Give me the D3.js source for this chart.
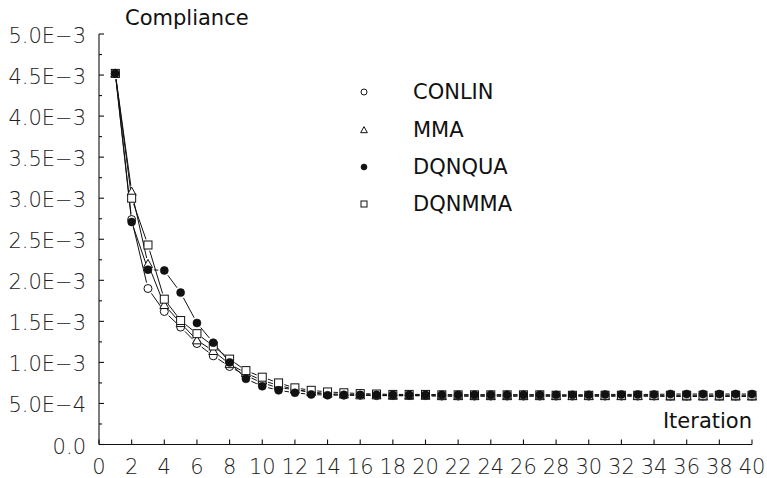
<!DOCTYPE html>
<html>
<head>
<meta charset="utf-8">
<script src="https://cdn.jsdelivr.net/npm/d3@7"></script>
<style>
  html, body { margin: 0; padding: 0; background: #fff; }
  svg { display: block; }
  .tick-label { font-family: "DejaVu Sans", Verdana, sans-serif; font-weight: 200; font-size: 21px; fill: #222; }
  .title { font-family: "DejaVu Sans", Verdana, sans-serif; font-size: 21px; fill: #111; }
</style>
</head>
<body>
<svg id="chart" width="767" height="478"></svg>
<script>
// Iteration numbers
const iterations = d3.range(1, 41);

// Compliance history for each optimizer
const conlin = [4.52e-3, 2.74e-3, 1.90e-3, 1.62e-3, 1.43e-3, 1.23e-3, 1.08e-3, 0.95e-3, 0.84e-3, 0.75e-3,
  0.69e-3, 0.67e-3, 0.63e-3, 0.61e-3, 0.60e-3, 0.60e-3, 0.595e-3, 0.595e-3, 0.595e-3, 0.595e-3,
  0.59e-3, 0.59e-3, 0.59e-3, 0.59e-3, 0.59e-3, 0.59e-3, 0.59e-3, 0.59e-3, 0.59e-3, 0.59e-3,
  0.59e-3, 0.59e-3, 0.59e-3, 0.59e-3, 0.59e-3, 0.59e-3, 0.59e-3, 0.59e-3, 0.59e-3, 0.59e-3];
const mma = [4.52e-3, 3.08e-3, 2.20e-3, 1.70e-3, 1.48e-3, 1.27e-3, 1.14e-3, 0.98e-3, 0.87e-3, 0.78e-3,
  0.72e-3, 0.67e-3, 0.64e-3, 0.62e-3, 0.61e-3, 0.60e-3, 0.60e-3, 0.595e-3, 0.595e-3, 0.595e-3,
  0.59e-3, 0.59e-3, 0.59e-3, 0.59e-3, 0.59e-3, 0.59e-3, 0.59e-3, 0.59e-3, 0.59e-3, 0.59e-3,
  0.59e-3, 0.59e-3, 0.59e-3, 0.59e-3, 0.585e-3, 0.585e-3, 0.585e-3, 0.585e-3, 0.585e-3, 0.585e-3];
const dqnqua = [4.52e-3, 2.71e-3, 2.13e-3, 2.12e-3, 1.85e-3, 1.48e-3, 1.24e-3, 1.00e-3, 0.80e-3, 0.71e-3,
  0.66e-3, 0.63e-3, 0.61e-3, 0.60e-3, 0.605e-3, 0.605e-3, 0.605e-3, 0.605e-3, 0.605e-3, 0.605e-3,
  0.605e-3, 0.605e-3, 0.605e-3, 0.605e-3, 0.605e-3, 0.605e-3, 0.605e-3, 0.605e-3, 0.605e-3, 0.605e-3,
  0.61e-3, 0.61e-3, 0.61e-3, 0.61e-3, 0.615e-3, 0.615e-3, 0.615e-3, 0.615e-3, 0.615e-3, 0.615e-3];
const dqnmma = [4.52e-3, 3.00e-3, 2.43e-3, 1.77e-3, 1.51e-3, 1.35e-3, 1.20e-3, 1.04e-3, 0.90e-3, 0.82e-3,
  0.75e-3, 0.69e-3, 0.66e-3, 0.64e-3, 0.63e-3, 0.62e-3, 0.615e-3, 0.61e-3, 0.61e-3, 0.61e-3,
  0.605e-3, 0.605e-3, 0.605e-3, 0.605e-3, 0.605e-3, 0.605e-3, 0.605e-3, 0.60e-3, 0.60e-3, 0.60e-3,
  0.60e-3, 0.60e-3, 0.60e-3, 0.60e-3, 0.60e-3, 0.60e-3, 0.60e-3, 0.60e-3, 0.60e-3, 0.60e-3];

const seriesNames = ["CONLIN", "MMA", "DQNQUA", "DQNMMA"];
const seriesSymbols = ["circle", "triangle", "dot", "square"];

// Axis ticks and labels
const yTickValues = [0, 5e-4, 1e-3, 1.5e-3, 2e-3, 2.5e-3, 3e-3, 3.5e-3, 4e-3, 4.5e-3, 5e-3];
const yTickLabels = ["0.0", "5.0E\u22124", "1.0E\u22123", "1.5E\u22123", "2.0E\u22123", "2.5E\u22123",
  "3.0E\u22123", "3.5E\u22123", "4.0E\u22123", "4.5E\u22123", "5.0E\u22123"];
const xTickValues = d3.range(0, 41, 2);

const svg = d3.select("#chart");
const x = d3.scaleLinear().domain([0, 40]).range([99, 752]);
const y = d3.scaleLinear().domain([0, 5e-3]).range([444.5, 34]);

// Axes
const axes = svg.append("g").attr("stroke", "#111").attr("stroke-width", 1.1);
axes.append("line").attr("x1", x(0)).attr("x2", x(0)).attr("y1", y(0)).attr("y2", y(5e-3));
axes.append("line").attr("x1", x(0)).attr("x2", x(40)).attr("y1", y(0)).attr("y2", y(0));
yTickValues.forEach(v => {
  axes.append("line").attr("x1", x(0)).attr("x2", x(0) + 5).attr("y1", y(v)).attr("y2", y(v));
});
d3.range(2.5e-4, 5e-3, 5e-4).forEach(v => {
  axes.append("line").attr("x1", x(0)).attr("x2", x(0) + 3).attr("y1", y(v)).attr("y2", y(v));
});
xTickValues.forEach(v => {
  axes.append("line").attr("x1", x(v)).attr("x2", x(v)).attr("y1", y(0)).attr("y2", y(0) - 5);
});

svg.selectAll(".ylab").data(yTickValues).enter().append("text")
  .attr("class", "tick-label")
  .attr("x", 86).attr("y", d => y(d) + 2)
  .attr("text-anchor", "end").attr("dominant-baseline", "central")
  .text((d, i) => yTickLabels[i]);

svg.selectAll(".xlab").data(xTickValues).enter().append("text")
  .attr("class", "tick-label")
  .attr("x", d => x(d)).attr("y", 467)
  .attr("text-anchor", "middle").attr("dominant-baseline", "central")
  .text(d => d);

svg.append("text").attr("class", "title").attr("x", 125).attr("y", 18)
  .attr("dominant-baseline", "central").text("Compliance");
svg.append("text").attr("class", "title").attr("x", 752).attr("y", 421)
  .attr("text-anchor", "end").attr("dominant-baseline", "central").text("Iteration");

// Marker painter
function drawSymbol(g, type, cx, cy, s) {
  if (type === "circle") {
    g.append("circle").attr("cx", cx).attr("cy", cy).attr("r", 4 * s)
      .attr("fill", "#fff").attr("stroke", "#111").attr("stroke-width", 1);
  } else if (type === "dot") {
    g.append("circle").attr("cx", cx).attr("cy", cy).attr("r", 4 * s)
      .attr("fill", "#111").attr("stroke", "#111").attr("stroke-width", 0.6);
  } else if (type === "square") {
    const h = 4 * s;
    g.append("rect").attr("x", cx - h).attr("y", cy - h).attr("width", 2 * h).attr("height", 2 * h)
      .attr("fill", "#fff").attr("stroke", "#111").attr("stroke-width", 1);
  } else if (type === "triangle") {
    const h = 4.5 * s;
    g.append("path")
      .attr("d", `M${cx},${cy - h}L${cx + h},${cy + h * 0.8}L${cx - h},${cy + h * 0.8}Z`)
      .attr("fill", "#fff").attr("stroke", "#111").attr("stroke-width", 1);
  }
}

// Connecting lines stop short of each marker
const seriesData = [conlin, mma, dqnmma, dqnqua];
const seriesType = ["circle", "triangle", "square", "dot"];
const gap = 6;
const lines = svg.append("g").attr("stroke", "#111").attr("stroke-width", 1).attr("fill", "none");
seriesData.forEach(vals => {
  for (let i = 0; i < vals.length - 1; i++) {
    const x1 = x(iterations[i]), y1 = y(vals[i]);
    const x2 = x(iterations[i + 1]), y2 = y(vals[i + 1]);
    const len = Math.hypot(x2 - x1, y2 - y1);
    if (len <= 2 * gap) continue;
    const ux = (x2 - x1) / len, uy = (y2 - y1) / len;
    lines.append("line")
      .attr("x1", x1 + ux * gap).attr("y1", y1 + uy * gap)
      .attr("x2", x2 - ux * gap).attr("y2", y2 - uy * gap);
  }
});

// Markers, filled dots on top
const marks = svg.append("g");
seriesData.forEach((vals, k) => {
  vals.forEach((v, i) => drawSymbol(marks, seriesType[k], x(iterations[i]), y(v), 1));
});

// Legend
const legendY = [92, 130, 167, 204];
const legend = svg.append("g");
seriesNames.forEach((name, i) => {
  drawSymbol(legend, seriesSymbols[i], 364, legendY[i], 0.75);
  legend.append("text").attr("class", "title").attr("x", 413).attr("y", legendY[i])
    .attr("dominant-baseline", "central").text(name);
});
</script>
</body>
</html>
